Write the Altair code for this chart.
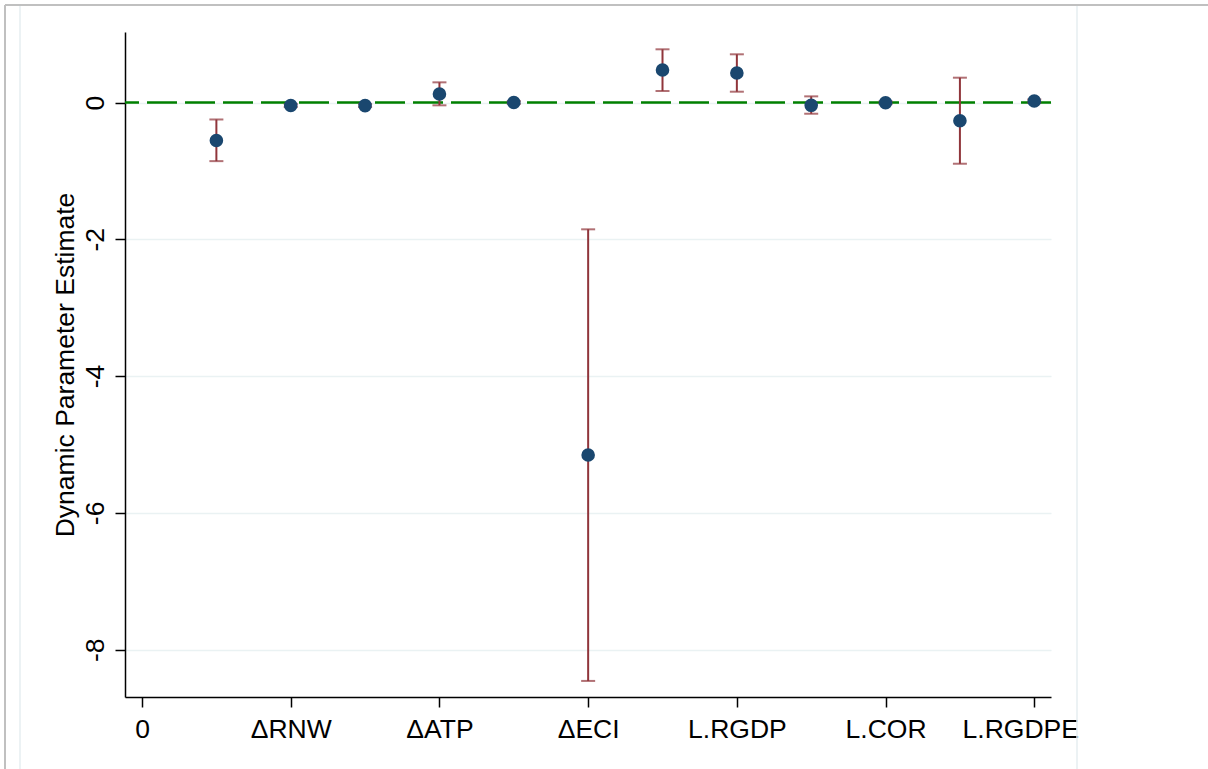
import altair as alt
import pandas as pd

# ---- data ----
positions = [1, 2, 3, 4, 5, 6, 7, 8, 9, 10, 11, 12]
estimates = [-0.555, -0.044, -0.045, 0.124, 0.0, -5.154, 0.475, 0.431, -0.041, -0.003, -0.266, 0.022]
ci_low = [-0.857, -0.065, -0.066, -0.041, -0.02, -8.457, 0.168, 0.158, -0.164, -0.023, -0.895, 0.0]
ci_high = [-0.248, -0.023, -0.024, 0.295, 0.02, -1.854, 0.778, 0.705, 0.090, 0.017, 0.363, 0.045]

tick_values = [0, 2, 4, 6, 8, 10, 12]
tick_labels = ["0", "ΔRNW", "ΔATP", "ΔECI", "L.RGDP", "L.COR", "L.RGDPE"]
y_ticks = [0, -2, -4, -6, -8]

df = pd.DataFrame({"pos": positions, "est": estimates, "lo": ci_low, "hi": ci_high})
caps = pd.concat([
    pd.DataFrame({"pos": positions, "cap": ci_low}),
    pd.DataFrame({"pos": positions, "cap": ci_high}),
])

FONT = "Liberation Sans"
W, H = 926, 665
label_expr = "[" + ",".join("'" + t + "'" for t in tick_labels) + "][round(datum.value/2)]"

xscale = alt.Scale(domain=[-0.229, 12.225], nice=False, zero=False)
yscale = alt.Scale(domain=[-8.692, 1.031], nice=False, zero=False)

x_axis = alt.Axis(values=tick_values, labelExpr=label_expr, title=None, grid=False,
                  labelFont=FONT, labelFontSize=26.5, labelColor="black",
                  labelBaseline="alphabetic", labelPadding=30, labelFlush=False,
                  labelOffset={"condition": {"test": "datum.value == 12", "value": -14}, "value": 0},
                  tickSize=10, tickColor="black", tickWidth=1.5,
                  domainColor="black", domainWidth=1.5)
y_axis = alt.Axis(values=y_ticks, title="Dynamic Parameter Estimate", grid=True,
                  gridColor="#eaf2f3", gridWidth=1.5,
                  labelExpr="toString(datum.value)",
                  labelFont=FONT, labelFontSize=26.5, labelColor="black",
                  labelAngle=270, labelAlign="center", labelBaseline="alphabetic",
                  labelPadding=12,
                  tickSize=10, tickColor="black", tickWidth=1.5,
                  domainColor="black", domainWidth=1.5,
                  titleFont=FONT, titleFontSize=26.5, titleFontWeight="normal",
                  titleColor="black", titleAngle=270, titleAlign="center",
                  titleBaseline="alphabetic", titleX=-52, titleY=332.5)

base = alt.Chart(df)

points_axes = base.mark_point(opacity=0).encode(
    x=alt.X("pos:Q", scale=xscale, axis=x_axis),
    y=alt.Y("est:Q", scale=yscale, axis=y_axis),
)

zero_line = alt.Chart(pd.DataFrame({"z": [0]})).mark_rule(
    color="#008000", strokeWidth=2.5, strokeDash=[30, 8]
).encode(y=alt.Y("z:Q", scale=yscale))

bars = base.mark_rule(color="#90353b", strokeWidth=2).encode(
    x=alt.X("pos:Q", scale=xscale),
    y=alt.Y("lo:Q", scale=yscale),
    y2="hi:Q",
)

cap_marks = alt.Chart(caps).mark_tick(
    color="#90353b", orient="horizontal", size=14, thickness=2
).encode(
    x=alt.X("pos:Q", scale=xscale),
    y=alt.Y("cap:Q", scale=yscale),
)

dots = base.mark_circle(color="#1a476f", size=185, opacity=1).encode(
    x=alt.X("pos:Q", scale=xscale),
    y=alt.Y("est:Q", scale=yscale),
)

one = pd.DataFrame({"a": [0]})
frame_top = alt.Chart(one).mark_rule(color="#c0c0c0", strokeWidth=2).encode(
    x=alt.value(-120), x2=alt.value(1083), y=alt.value(-27))
frame_left = alt.Chart(one).mark_rule(color="#c0c0c0", strokeWidth=2).encode(
    x=alt.value(-120), y=alt.value(-27), y2=alt.value(737))
inner_left = alt.Chart(one).mark_rule(color="#e6eef0", strokeWidth=1.5).encode(
    x=alt.value(-105), y=alt.value(-26), y2=alt.value(737))
inner_right = alt.Chart(one).mark_rule(color="#e6eef0", strokeWidth=1.5).encode(
    x=alt.value(952), y=alt.value(-26), y2=alt.value(737))

chart = alt.layer(
    frame_top, frame_left, inner_left, inner_right,
    points_axes, zero_line, bars, cap_marks, dots
).properties(
    width=W, height=H,
    autosize=alt.AutoSizeParams(type="none"),
    padding={"left": 125, "top": 32, "right": 157, "bottom": 72},
    background="white",
).configure_view(stroke=None)

chart.save("out.html", embed_options={"renderer": "svg", "actions": False})
